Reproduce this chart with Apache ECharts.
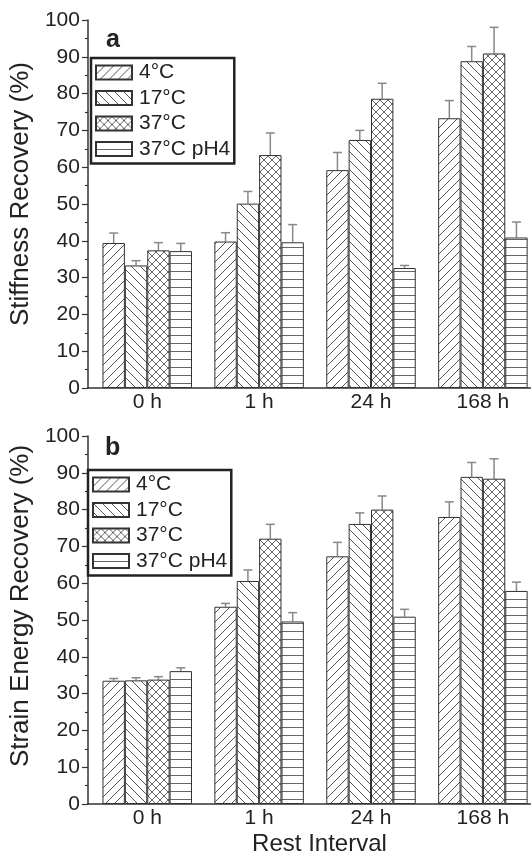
<!DOCTYPE html>
<html>
<head>
<meta charset="utf-8">
<script src="https://cdn.jsdelivr.net/npm/echarts@6/dist/echarts.min.js"></script>
<style>
html,body{margin:0;padding:0;background:#fff;}
#chart{width:531px;height:857px;}
</style>
</head>
<body>
<div id="chart"></div>
<script>
// ---- data ----
const categories = ['0 h', '1 h', '24 h', '168 h'];
const seriesNames = ['4°C', '17°C', '37°C', '37°C pH4'];
const yTicks = [0, 10, 20, 30, 40, 50, 60, 70, 80, 90, 100];

// Panel a: Stiffness Recovery (%)
const stiff4C   = [39.4, 39.8, 59.2, 73.3];
const stiff17C  = [33.3, 50.1, 67.4, 88.8];
const stiff37C  = [37.4, 63.3, 78.6, 90.9];
const stiffPH4  = [37.2, 39.6, 32.6, 40.9];
const stiffErr4C  = [2.7, 2.4, 4.8, 4.8];
const stiffErr17C = [1.3, 3.3, 2.6, 4.0];
const stiffErr37C = [2.1, 6.0, 4.2, 7.1];
const stiffErrPH4 = [2.1, 4.8, 0.7, 4.2];

// Panel b: Strain Energy Recovery (%)
const strain4C  = [33.5, 53.6, 67.3, 78.0];
const strain17C = [33.6, 60.6, 76.1, 88.9];
const strain37C = [33.8, 72.1, 80.0, 88.4];
const strainPH4 = [36.1, 49.6, 50.9, 57.9];
const strainErr4C  = [0.6, 0.9, 3.8, 4.1];
const strainErr17C = [0.7, 3.0, 3.0, 3.9];
const strainErr37C = [0.8, 3.9, 3.7, 5.4];
const strainErrPH4 = [0.9, 2.4, 2.0, 2.4];

// ---- patterns ----
function makePattern(kind, s, color) {
  const c = document.createElement('canvas');
  c.width = s; c.height = s;
  const g = c.getContext('2d');
  g.fillStyle = '#ffffff';
  g.fillRect(0, 0, s, s);
  g.strokeStyle = color;
  g.lineWidth = 1;
  g.beginPath();
  if (kind === 'fwd' || kind === 'cross') {
    for (const k of [-s, 0, s]) { g.moveTo(k, s); g.lineTo(k + s, 0); }
  }
  if (kind === 'back' || kind === 'cross') {
    for (const k of [-s, 0, s]) { g.moveTo(k, 0); g.lineTo(k + s, s); }
  }
  if (kind === 'h') {
    g.moveTo(0, s - 0.5); g.lineTo(s, s - 0.5);
  }
  g.stroke();
  return { image: c, repeat: 'repeat' };
}
const patterns = [
  makePattern('fwd', 9, '#555'),
  makePattern('back', 9, '#555'),
  makePattern('cross', 8, '#666'),
  makePattern('h', 8, '#666')
];

const panelA = [stiff4C, stiff17C, stiff37C, stiffPH4];
const panelAErr = [stiffErr4C, stiffErr17C, stiffErr37C, stiffErrPH4];
const panelB = [strain4C, strain17C, strain37C, strainPH4];
const panelBErr = [strainErr4C, strainErr17C, strainErr37C, strainErrPH4];

const BAR_FRAC = 0.2;
const FONT = 'Liberation Sans, Arial, Helvetica, sans-serif';

function buildSeries(values, errs, gi) {
  const out = [];
  values.forEach((vals, si) => {
    out.push({
      type: 'bar', name: seriesNames[si],
      xAxisIndex: gi, yAxisIndex: gi,
      barWidth: (BAR_FRAC * 100) + '%', barGap: '0%',
      itemStyle: { color: patterns[si], borderColor: '#333', borderWidth: 1 },
      data: vals.map((v, i) => [i, v]),
      z: 2
    });
  });
  values.forEach((vals, si) => {
    out.push({
      type: 'custom', name: 'err' + gi + '_' + si,
      xAxisIndex: gi, yAxisIndex: gi,
      data: vals.map((v, i) => [i, v, errs[si][i]]),
      z: 1,
      renderItem: function (params, api) {
        const unit = api.size([1, 0])[0];
        const off = (si - 1.5) * BAR_FRAC * unit;
        const p0 = api.coord([api.value(0), api.value(1)]);
        const p1 = api.coord([api.value(0), api.value(1) + api.value(2)]);
        const x = p0[0] + off;
        const st = { stroke: '#888', lineWidth: 1.5 };
        return {
          type: 'group',
          children: [
            { type: 'line', shape: { x1: x, y1: p0[1], x2: x, y2: p1[1] }, style: st },
            { type: 'line', shape: { x1: x - 4.5, y1: p1[1], x2: x + 4.5, y2: p1[1] }, style: st }
          ]
        };
      }
    });
  });
  return out;
}

const axisLine = { show: true, onZero: false, lineStyle: { color: '#333', width: 1.5 } };

function xAxisFor(gi) {
  return {
    gridIndex: gi, type: 'value', min: -0.53, max: 3.43,
    axisLine: axisLine, axisTick: { show: false }, splitLine: { show: false },
    axisLabel: {
      customValues: [0, 1, 2, 3],
      formatter: v => categories[Math.round(v)],
      fontSize: 21, color: '#222', margin: 4, fontFamily: FONT
    },
    name: gi === 1 ? 'Rest Interval' : '',
    nameLocation: 'middle', nameGap: 28,
    nameTextStyle: { fontSize: 24, color: '#222', fontFamily: FONT, padding: [0, 0, 0, 20] }
  };
}
function yAxisFor(gi, name, shift) {
  return {
    gridIndex: gi, type: 'value', min: yTicks[0], max: yTicks[yTicks.length - 1], interval: 10,
    axisLine: axisLine,
    axisTick: { show: true, length: 6, lineStyle: { color: '#333', width: 1.2 } },
    minorTick: { show: true, splitNumber: 2, length: 3, lineStyle: { color: '#333', width: 1.2 } },
    splitLine: { show: false },
    axisLabel: { fontSize: 21, color: '#222', margin: 8, fontFamily: FONT },
    name: name, nameLocation: 'middle', nameGap: 42,
    nameTextStyle: { fontSize: 26, color: '#222', fontFamily: FONT, padding: [0, 0, 0, shift] }
  };
}
function legendFor(top, left) {
  return {
    data: seriesNames, orient: 'vertical', left: left, top: top,
    icon: 'rect', itemWidth: 36, itemHeight: 14, itemGap: 4.5,
    padding: [4, 4, 4, 4],
    borderColor: '#222', borderWidth: 2.5, backgroundColor: '#fff',
    selectedMode: false,
    textStyle: { fontSize: 21, lineHeight: 21, color: '#222', fontFamily: FONT, padding: [0, 0, 0, 2] }
  };
}

const option = {
  animation: false,
  backgroundColor: '#fff',
  textStyle: { fontFamily: FONT },
  title: [
    { text: 'a', left: 106, top: 28, padding: 0, textStyle: { fontSize: 25, fontWeight: 'bold', color: '#222', fontFamily: FONT } },
    { text: 'b', left: 105, top: 436, padding: 0, textStyle: { fontSize: 25, fontWeight: 'bold', color: '#222', fontFamily: FONT } }
  ],
  legend: [legendFor(58, 91), legendFor(470, 88)],
  grid: [
    { left: 80, right: 0, top: 20, height: 368 },
    { left: 80, right: 0, top: 436, height: 368 }
  ],
  xAxis: [xAxisFor(0), xAxisFor(1)],
  yAxis: [yAxisFor(0, 'Stiffness Recovery (%)', 20), yAxisFor(1, 'Strain Energy Recovery (%)', 28)],
  series: [].concat(buildSeries(panelA, panelAErr, 0), buildSeries(panelB, panelBErr, 1))
};

const chart = echarts.init(document.getElementById('chart'), null, { renderer: 'canvas' });
chart.setOption(option);
</script>
</body>
</html>
